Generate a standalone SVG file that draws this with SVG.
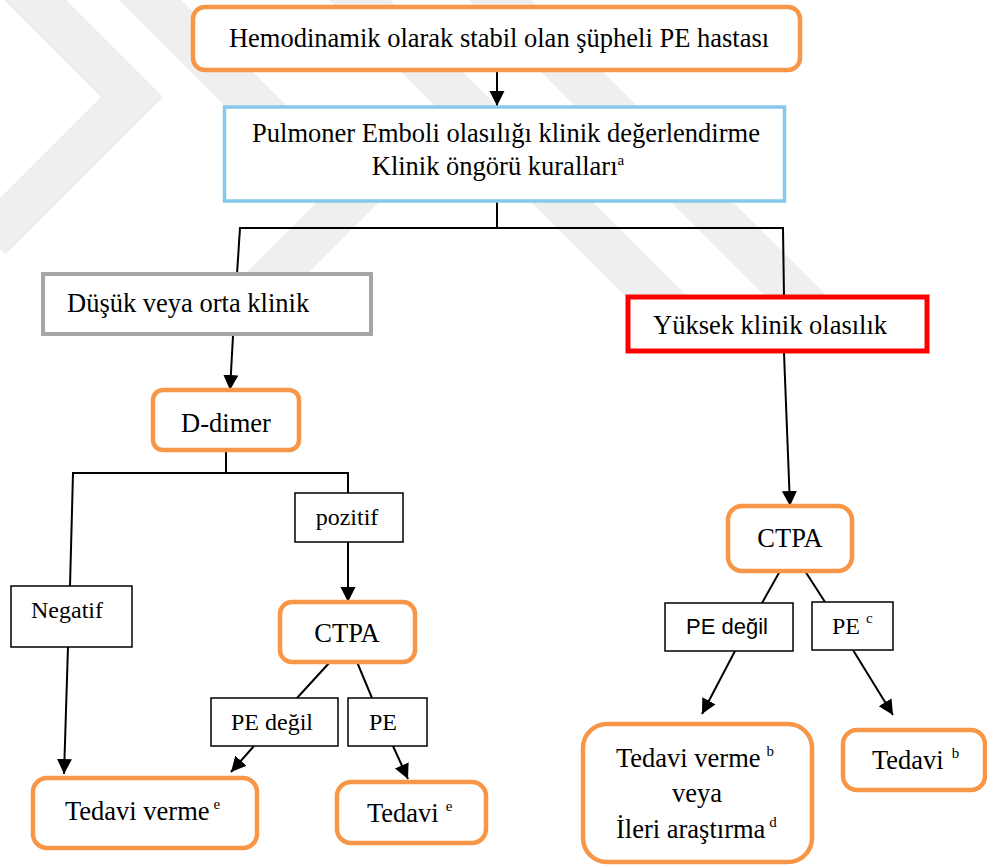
<svg xmlns="http://www.w3.org/2000/svg" width="987" height="865" viewBox="0 0 987 865">
<defs>
<style>
.bg{fill:#ffffff}
.wm{fill:none;stroke:#efefef;stroke-width:44;stroke-linejoin:miter}
.t{font-family:"Liberation Serif","Times New Roman",serif;font-size:26.5px;fill:#000}
.ts{font-family:"Liberation Serif","Times New Roman",serif;font-size:24px;fill:#000}
.sans{font-family:"Liberation Sans",Arial,sans-serif;font-size:22px;fill:#000}
.sup{font-size:15px}
.or{fill:#fff;stroke:#F79646;stroke-width:4.5}
.bl{fill:#fff;stroke:#87C9EA;stroke-width:3.5}
.gr{fill:#fff;stroke:#A6A6A6;stroke-width:4}
.rd{fill:#fff;stroke:#FF0000;stroke-width:5}
.lb{fill:#fff;stroke:#000;stroke-width:1.5}
.c{fill:none;stroke:#000;stroke-width:2}
.m{text-anchor:middle}
</style>
<marker id="ah" markerWidth="16" markerHeight="16" refX="15" refY="7.5" orient="auto" markerUnits="userSpaceOnUse">
<path d="M0,0 L15,7.5 L0,15 z" fill="#000"/>
</marker>
<clipPath id="wmclip"><rect x="0" y="0" width="987" height="312"/></clipPath>
</defs>
<rect class="bg" x="0" y="0" width="987" height="865"/>
<g id="watermark" clip-path="url(#wmclip)">
<polyline class="wm" points="-10,-45 132,97 -10,239"/>
<polyline class="wm" points="110,-40 350,200 0,550"/>
<line class="wm" x1="340" y1="-20" x2="700" y2="340"/>
<line class="wm" x1="480" y1="-20" x2="840" y2="340"/>
</g>
<g id="connectors">
<line class="c" x1="497" y1="71" x2="497" y2="106" marker-end="url(#ah)"/>
<line class="c" x1="497" y1="202" x2="497" y2="228"/>
<line class="c" x1="239" y1="228" x2="784" y2="228"/>
<line class="c" x1="240" y1="228" x2="237" y2="274"/>
<line class="c" x1="783" y1="228" x2="784" y2="297"/>
<line class="c" x1="233" y1="336" x2="230" y2="390" marker-end="url(#ah)"/>
<line class="c" x1="226" y1="450" x2="226" y2="473"/>
<line class="c" x1="72" y1="473" x2="349" y2="473"/>
<line class="c" x1="73" y1="473" x2="70" y2="586"/>
<line class="c" x1="348" y1="473" x2="348" y2="493"/>
<line class="c" x1="68" y1="647" x2="64" y2="774" marker-end="url(#ah)"/>
<line class="c" x1="348" y1="542" x2="348" y2="602" marker-end="url(#ah)"/>
<line class="c" x1="330" y1="662" x2="297" y2="698"/>
<line class="c" x1="357" y1="662" x2="372" y2="698"/>
<line class="c" x1="254" y1="746" x2="231" y2="772" marker-end="url(#ah)"/>
<line class="c" x1="393" y1="746" x2="408" y2="779" marker-end="url(#ah)"/>
<line class="c" x1="784" y1="353" x2="790" y2="506" marker-end="url(#ah)"/>
<line class="c" x1="780" y1="571" x2="762" y2="603"/>
<line class="c" x1="805" y1="571" x2="825" y2="602"/>
<line class="c" x1="735" y1="651" x2="702" y2="714" marker-end="url(#ah)"/>
<line class="c" x1="853" y1="650" x2="893" y2="715" marker-end="url(#ah)"/>
</g>
<g id="n1">
<rect class="or" x="193" y="7" width="607" height="63" rx="12"/>
<text class="t m" x="499" y="47">Hemodinamik olarak stabil olan şüpheli PE hastası</text>
</g>
<g id="n2">
<rect class="bl" x="224.5" y="107" width="560" height="94"/>
<text class="t m" x="506" y="142">Pulmoner Emboli olasılığı klinik değerlendirme</text>
<text class="t m" x="498" y="175">Klinik öngörü kuralları<tspan class="sup" dy="-10">a</tspan></text>
</g>
<g id="n3">
<rect class="gr" x="43" y="274" width="328" height="60"/>
<text class="t" x="67" y="312">Düşük veya orta klinik</text>
</g>
<g id="n4">
<rect class="rd" x="628" y="297" width="299" height="54"/>
<text class="t" x="653" y="334">Yüksek klinik olasılık</text>
</g>
<g id="n5">
<rect class="or" x="153" y="390" width="146" height="60" rx="10"/>
<text class="t m" x="226" y="432">D-dimer</text>
</g>
<g id="n6">
<rect class="lb" x="11" y="586" width="121" height="61"/>
<text class="ts m" x="67" y="618">Negatif</text>
</g>
<g id="n7">
<rect class="lb" x="295" y="493" width="108" height="49"/>
<text class="ts m" x="347" y="525">pozitif</text>
</g>
<g id="n8">
<rect class="or" x="280" y="602" width="135" height="60" rx="12"/>
<text class="t m" x="347" y="642">CTPA</text>
</g>
<g id="n9">
<rect class="lb" x="211" y="698" width="127" height="48"/>
<text class="ts m" x="272" y="730">PE değil</text>
</g>
<g id="n10">
<rect class="lb" x="348" y="698" width="79" height="48"/>
<text class="ts m" x="383" y="730">PE</text>
</g>
<g id="n11">
<rect class="or" x="33" y="778" width="224" height="70" rx="14"/>
<text class="t" x="65" y="820">Tedavi verme<tspan class="sup" dx="4" dy="-11">e</tspan></text>
</g>
<g id="n12">
<rect class="or" x="337" y="782" width="149" height="61" rx="14"/>
<text class="t" x="367" y="822">Tedavi<tspan class="sup" dx="7" dy="-11">e</tspan></text>
</g>
<g id="n13">
<rect class="or" x="728" y="506" width="124" height="65" rx="14"/>
<text class="t m" x="790" y="547">CTPA</text>
</g>
<g id="n14">
<rect class="lb" x="665" y="603" width="128" height="48"/>
<text class="sans m" x="727" y="634">PE değil</text>
</g>
<g id="n15">
<rect class="lb" x="812" y="602" width="81" height="48"/>
<text class="ts" x="832" y="634">PE<tspan class="sup" dx="6" dy="-11">c</tspan></text>
</g>
<g id="n16">
<rect class="or" x="583" y="724" width="229" height="138" rx="24"/>
<text class="t" x="616" y="767">Tedavi verme<tspan class="sup" dx="6" dy="-11">b</tspan></text>
<text class="t m" x="697" y="802">veya</text>
<text class="t" x="616" y="838">İleri araştırma<tspan class="sup" dx="4" dy="-11">d</tspan></text>
</g>
<g id="n17">
<rect class="or" x="843" y="730" width="142" height="60" rx="14"/>
<text class="t" x="872" y="769">Tedavi<tspan class="sup" dx="8" dy="-11">b</tspan></text>
</g>
</svg>
